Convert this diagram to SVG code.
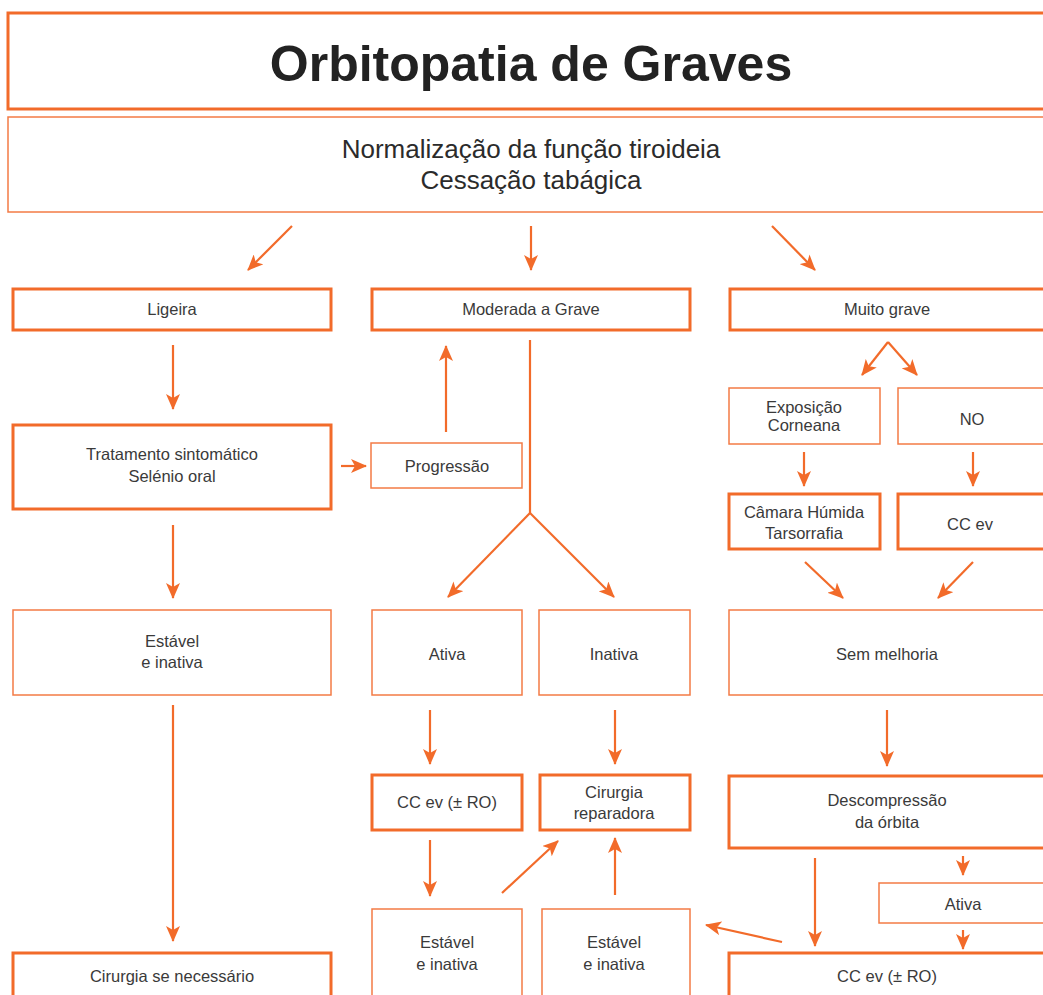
<svg xmlns="http://www.w3.org/2000/svg" width="1043" height="995" viewBox="0 0 1043 995">
<style>
  .thick { fill: #ffffff; stroke: #f26b2a; stroke-width: 3; }
  .thin { fill: #ffffff; stroke: #f37b45; stroke-width: 1.5; }
  .lbl { font-family: "Liberation Sans", Arial, sans-serif; font-size: 16.5px; fill: #3a3a3a; text-anchor: middle; }
  .sub { font-family: "Liberation Sans", Arial, sans-serif; font-size: 26px; fill: #2b2b2b; text-anchor: middle; }
  .title { font-family: "Liberation Sans", Arial, sans-serif; font-size: 50px; font-weight: bold; fill: #222222; text-anchor: middle; }
  .conn line, .conn polyline { stroke: #f26b2a; stroke-width: 2.2; fill: none; }
  .arr { marker-end: url(#ah); }
</style>
<defs>
  <marker id="ah" viewBox="0 0 16 14" refX="15" refY="7" markerWidth="16" markerHeight="14" markerUnits="userSpaceOnUse" orient="auto">
    <path d="M0,0 L16,7 L0,14 L4,7 z" fill="#f26b2a"/>
  </marker>
</defs>
<rect width="1043" height="995" fill="#ffffff"/>

<g id="title">
  <rect class="thick" x="8" y="13" width="1050" height="96"/>
  <text class="title" x="531" y="81">Orbitopatia de Graves</text>
</g>
<g id="general">
  <rect class="thin" x="8" y="117" width="1050" height="95" stroke-width="2"/>
  <text class="sub" x="531" y="158">Normalização da função tiroideia</text>
  <text class="sub" x="531" y="189">Cessação tabágica</text>
</g>

<g id="ligeira">
  <rect class="thick" x="13" y="289" width="318" height="41"/>
  <text class="lbl" x="172" y="315">Ligeira</text>
</g>
<g id="moderada">
  <rect class="thick" x="372" y="289" width="318" height="41"/>
  <text class="lbl" x="531" y="315">Moderada a Grave</text>
</g>
<g id="muitograve">
  <rect class="thick" x="730" y="289" width="330" height="41"/>
  <text class="lbl" x="887" y="315">Muito grave</text>
</g>

<g id="tratamento">
  <rect class="thick" x="13" y="425" width="318" height="84"/>
  <text class="lbl" x="172" y="460">Tratamento sintomático</text>
  <text class="lbl" x="172" y="482">Selénio oral</text>
</g>
<g id="progressao">
  <rect class="thin" x="371" y="443" width="151" height="45"/>
  <text class="lbl" x="447" y="472">Progressão</text>
</g>

<g id="exposicao">
  <rect class="thin" x="729" y="388" width="151" height="56"/>
  <text class="lbl" x="804" y="413">Exposição</text>
  <text class="lbl" x="804" y="431">Corneana</text>
</g>
<g id="no">
  <rect class="thin" x="898" y="388" width="160" height="56"/>
  <text class="lbl" x="972" y="425">NO</text>
</g>
<g id="camara">
  <rect class="thick" x="729" y="494" width="151" height="55"/>
  <text class="lbl" x="804" y="518">Câmara Húmida</text>
  <text class="lbl" x="804" y="539">Tarsorrafia</text>
</g>
<g id="ccev1">
  <rect class="thick" x="898" y="494" width="160" height="55"/>
  <text class="lbl" x="970" y="530">CC ev</text>
</g>

<g id="estavel1">
  <rect class="thin" x="13" y="610" width="318" height="85"/>
  <text class="lbl" x="172" y="647">Estável</text>
  <text class="lbl" x="172" y="668">e inativa</text>
</g>
<g id="ativa">
  <rect class="thin" x="372" y="610" width="150" height="85"/>
  <text class="lbl" x="447" y="660">Ativa</text>
</g>
<g id="inativa">
  <rect class="thin" x="539" y="610" width="151" height="85"/>
  <text class="lbl" x="614" y="660">Inativa</text>
</g>
<g id="semmelhoria">
  <rect class="thin" x="729" y="610" width="330" height="85"/>
  <text class="lbl" x="887" y="660">Sem melhoria</text>
</g>

<g id="ccevro1">
  <rect class="thick" x="372" y="775" width="150" height="55"/>
  <text class="lbl" x="447" y="808">CC ev (± RO)</text>
</g>
<g id="cirurgiarep">
  <rect class="thick" x="540" y="775" width="150" height="55"/>
  <text class="lbl" x="614" y="798">Cirurgia</text>
  <text class="lbl" x="614" y="819">reparadora</text>
</g>
<g id="descompressao">
  <rect class="thick" x="729" y="776" width="330" height="72"/>
  <text class="lbl" x="887" y="806">Descompressão</text>
  <text class="lbl" x="887" y="828">da órbita</text>
</g>
<g id="ativa2">
  <rect class="thin" x="879" y="883" width="180" height="40"/>
  <text class="lbl" x="963" y="910">Ativa</text>
</g>

<g id="estavel2">
  <rect class="thin" x="372" y="909" width="150" height="100"/>
  <text class="lbl" x="447" y="948">Estável</text>
  <text class="lbl" x="447" y="970">e inativa</text>
</g>
<g id="estavel3">
  <rect class="thin" x="542" y="909" width="148" height="100"/>
  <text class="lbl" x="614" y="948">Estável</text>
  <text class="lbl" x="614" y="970">e inativa</text>
</g>
<g id="cirurgia">
  <rect class="thick" x="13" y="953" width="318" height="60"/>
  <text class="lbl" x="172" y="982">Cirurgia se necessário</text>
</g>
<g id="ccevro2">
  <rect class="thick" x="729" y="953" width="330" height="60"/>
  <text class="lbl" x="887" y="982">CC ev (± RO)</text>
</g>

<g id="connectors" class="conn">
  <line class="arr" x1="292" y1="226" x2="248" y2="270"/>
  <line class="arr" x1="531" y1="226" x2="531" y2="270"/>
  <line class="arr" x1="772" y1="226" x2="815" y2="270"/>

  <line class="arr" x1="173" y1="345" x2="173" y2="409"/>
  <line class="arr" x1="341" y1="466" x2="366" y2="466"/>
  <line class="arr" x1="446" y1="432" x2="446" y2="346"/>
  <line class="arr" x1="173" y1="525" x2="173" y2="598"/>

  <polyline points="530,340 530,513"/>
  <line class="arr" x1="530" y1="513" x2="448" y2="597"/>
  <line class="arr" x1="530" y1="513" x2="614" y2="597"/>

  <line class="arr" x1="888" y1="342" x2="862" y2="375"/>
  <line class="arr" x1="888" y1="342" x2="917" y2="375"/>
  <line class="arr" x1="804" y1="452" x2="804" y2="486"/>
  <line class="arr" x1="973" y1="452" x2="973" y2="486"/>
  <line class="arr" x1="805" y1="562" x2="843" y2="598"/>
  <line class="arr" x1="973" y1="562" x2="938" y2="598"/>

  <line class="arr" x1="430" y1="710" x2="430" y2="764"/>
  <line class="arr" x1="615" y1="710" x2="615" y2="764"/>
  <line class="arr" x1="887" y1="710" x2="887" y2="766"/>

  <line class="arr" x1="430" y1="840" x2="430" y2="896"/>
  <line class="arr" x1="502" y1="893" x2="558" y2="841"/>
  <line class="arr" x1="615" y1="895" x2="615" y2="838"/>

  <line class="arr" x1="173" y1="705" x2="173" y2="941"/>

  <line class="arr" x1="815" y1="858" x2="815" y2="946"/>
  <line class="arr" x1="963" y1="856" x2="963" y2="875"/>
  <line class="arr" x1="963" y1="930" x2="963" y2="949"/>
  <line class="arr" x1="782" y1="942" x2="706" y2="925"/>
</g>
</svg>
